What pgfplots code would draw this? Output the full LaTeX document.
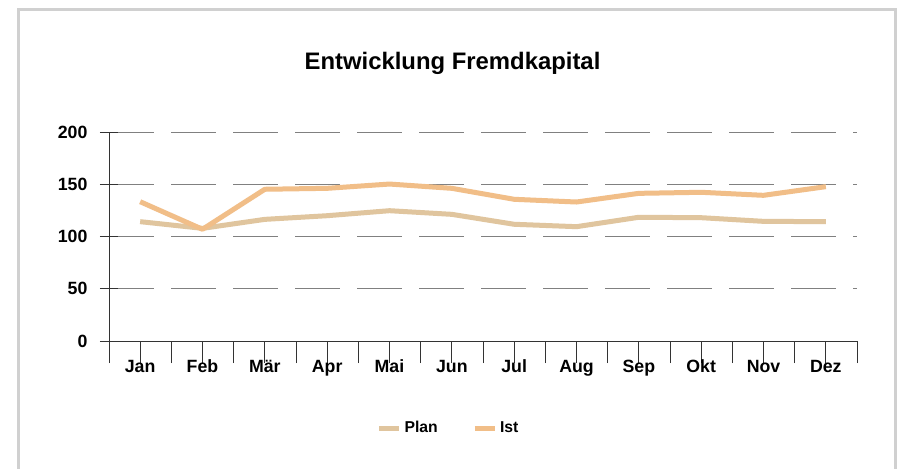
\documentclass[border=0pt]{standalone}
\usepackage{fontspec}
\setmainfont{Liberation Sans}
\usepackage{pgfplots}
\pgfplotsset{compat=1.18}
\definecolor{plancol}{RGB}{224,197,158}
\definecolor{istcol}{RGB}{241,190,136}
\definecolor{framegray}{RGB}{208,208,208}
\definecolor{gridgray}{RGB}{128,128,128}
\begin{document}
\begin{tikzpicture}
\clip (0,0) rectangle (674.25pt,351pt);
\fill[white] (0,0) rectangle (674.25pt,351pt);
% outer frame (open at the bottom)
\draw[framegray, line width=2.25pt] (13.875pt,-10pt) -- (13.875pt,343.875pt) -- (671.6pt,343.875pt) -- (671.6pt,-10pt);
\node[font=\fontsize{17.9}{21}\selectfont\bfseries] at (339.4pt,303.75pt) {Entwicklung Fremdkapital};
\begin{axis}[
  at={(81.75pt,95.25pt)}, anchor=south west,
  scale only axis, width=561pt, height=156.75pt,
  xmin=0, xmax=12, ymin=0, ymax=200,
  axis x line*=bottom, axis y line*=left,
  axis line style={-, black!80, line width=0.75pt},
  xtick={0,...,12}, xticklabels={},
  xtick align=outside, ytick align=center,
  xtick style={black!80, line width=0.75pt, /pgfplots/major tick length=16.5pt},
  ytick style={black!80, line width=0.75pt, /pgfplots/major tick length=13.5pt},
  extra x ticks={0.5,1.5,...,11.5},
  extra x tick labels={Jan,Feb,Mär,Apr,Mai,Jun,Jul,Aug,Sep,Okt,Nov,Dez},
  extra x tick style={major tick length=0pt, grid=none,
    tick label style={anchor=base, yshift=-23.5pt}},
  ytick={0,50,...,200},
  yticklabel style={xshift=-10.5pt},
  ymajorgrids,
  major grid style={gridgray, line width=0.75pt, dash pattern=on 33.75pt off 12.75pt},
  tick label style={font=\fontsize{13.3}{16}\selectfont\bfseries},
  /pgf/number format/assume math mode=true,
  legend style={at={(0.4545,-0.4163)}, anchor=center, legend columns=2, draw=none,
    font=\fontsize{11.8}{14}\selectfont\bfseries,
    /tikz/every even column/.append style={column sep=24pt}},
  legend image code/.code={\draw[#1, line width=3.75pt] (0pt,0pt) -- (15pt,0pt);},
  every axis plot/.append style={line width=3.75pt, line join=round, mark=none},
]
\addplot[plancol] coordinates {(0.5,114.2) (1.5,107.8) (2.5,116.4) (3.5,119.9) (4.5,124.7) (5.5,121.2) (6.5,111.7) (7.5,109.4) (8.5,118.4) (9.5,118.0) (10.5,114.5) (11.5,114.2)};
\addplot[istcol] coordinates {(0.5,133.3) (1.5,106.9) (2.5,145.2) (3.5,146.1) (4.5,150.2) (5.5,146.1) (6.5,135.6) (7.5,133.0) (8.5,141.3) (9.5,142.3) (10.5,139.4) (11.5,147.7)};
\legend{Plan,Ist}
\end{axis}
\end{tikzpicture}
\end{document}
